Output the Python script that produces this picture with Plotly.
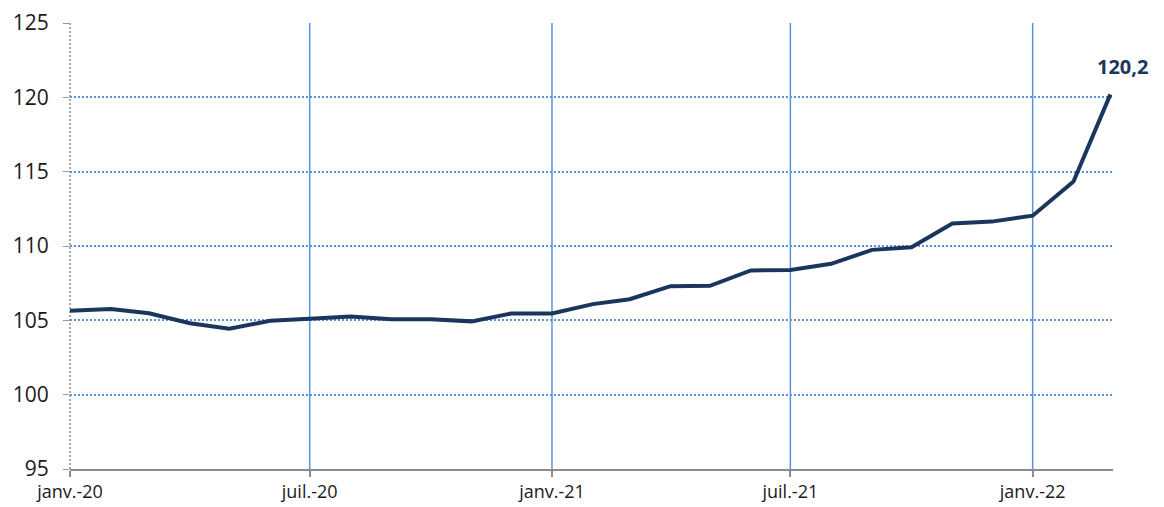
import plotly.graph_objects as go

months = [
    "2020-01-01", "2020-02-01", "2020-03-01", "2020-04-01", "2020-05-01", "2020-06-01",
    "2020-07-01", "2020-08-01", "2020-09-01", "2020-10-01", "2020-11-01", "2020-12-01",
    "2021-01-01", "2021-02-01", "2021-03-01", "2021-04-01", "2021-05-01", "2021-06-01",
    "2021-07-01", "2021-08-01", "2021-09-01", "2021-10-01", "2021-11-01", "2021-12-01",
    "2022-01-01", "2022-02-01", "2022-03-01",
]
values = [
    105.65, 105.77, 105.48, 104.81, 104.43, 104.97,
    105.10, 105.26, 105.07, 105.08, 104.93, 105.46,
    105.46, 106.09, 106.42, 107.30, 107.32, 108.36,
    108.39, 108.80, 109.74, 109.92, 111.51, 111.64,
    112.04, 114.33, 120.2,
]
tick_dates = ["2020-01-01", "2020-07-01", "2021-01-01", "2021-07-01", "2022-01-01"]
tick_labels = ["janv.-20", "juil.-20", "janv.-21", "juil.-21", "janv.-22"]
last_label = "120,2"

grid_blue = "#5B93DB"
line_navy = "#1B365D"

fig = go.Figure()
fig.add_trace(go.Scatter(
    x=months, y=values, mode="lines",
    line=dict(color=line_navy, width=4),
    hoverinfo="skip", showlegend=False,
))

shapes = []
for d in tick_dates[1:]:
    shapes.append(dict(type="line", xref="x", yref="paper", x0=d, x1=d, y0=0, y1=1,
                       line=dict(color=grid_blue, width=1.5), layer="below"))
# dotted left axis line
shapes.append(dict(type="line", xref="paper", yref="paper", x0=0, x1=0, y0=0, y1=1,
                   line=dict(color="#8C8C8C", width=1.5, dash="2px,2px"), layer="below"))

fig.add_annotation(
    x=months[-1], y=values[-1], text="<b>" + last_label + "</b>",
    showarrow=False, xanchor="center", yanchor="bottom",
    xshift=12, yshift=12,
    font=dict(family="Open Sans", size=20, color=line_navy),
)

# the page body has an 8px default margin, so the figure is drawn 8px in from the corner
fig.update_layout(
    width=1156, height=499,
    margin=dict(l=62, r=51, t=15, b=38, autoexpand=False),
    paper_bgcolor="white", plot_bgcolor="white",
    shapes=shapes,
    font=dict(family="Open Sans", color="#1a1a1a"),
    xaxis=dict(
        type="date", automargin=False,
        range=["2020-01-01", "2022-03-03"],
        tickmode="array", tickvals=tick_dates, ticktext=tick_labels,
        showgrid=False, zeroline=False,
        showline=True, linecolor="#8C8C8C", linewidth=1.5,
        ticks="outside", ticklen=6, tickcolor="#8C8C8C", tickwidth=1.5,
        tickfont=dict(size=18, color="#1a1a1a"),
    ),
    yaxis=dict(
        range=[95, 125], dtick=5, tick0=95, automargin=False,
        showgrid=True, gridcolor=grid_blue, gridwidth=1.5, griddash="2px,2px",
        zeroline=False, showline=False,
        ticks="outside", ticklen=6, tickcolor="#9A9A9A", tickwidth=1,
        tickfont=dict(size=21, color="#1a1a1a"),
        ticklabelstandoff=10,
    ),
)

fig.write_html("out.html")
